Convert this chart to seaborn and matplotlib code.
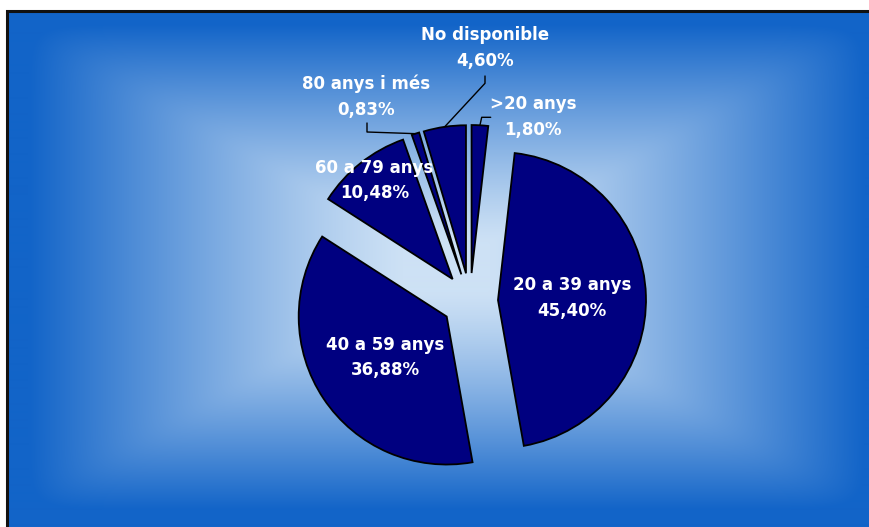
import numpy as np
import matplotlib
matplotlib.use("Agg")
import matplotlib.pyplot as plt
import seaborn as sns

# dades (percentatge per grup d'edat)
grups = [">20 anys", "20 a 39 anys", "40 a 59 anys", "60 a 79 anys", "80 anys i més", "No disponible"]
percentatges = [1.80, 45.40, 36.88, 10.48, 0.83, 4.60]

sns.set_theme(style="white")
plt.rcParams['font.family'] = ['DejaVu Sans']

W, H = 870, 527
fig = plt.figure(figsize=(W / 100, H / 100), dpi=100)
ax = fig.add_axes([0, 0, 1, 1])

# centre i radi del pastis (pixels), tot en unitats de radi
cx, cy, r = 470, 301, 148

def px(x, y):
    return (x - cx) / r, (cy - y) / r

# fons amb degradat rectangular des del centre
fx0, fx1, fy0, fy1 = 7, 886, 12, 522
gx, gy = (fx0 + fx1) / 2, (fy0 + fy1) / 2
xx, yy = np.meshgrid(np.arange(fx0, W + 1), np.arange(fy0, H + 1))
ux = np.abs(xx - gx) / ((fx1 - fx0) / 2)
uy = np.abs(yy - gy) / ((fy1 - fy0) / 2)
t = (ux ** 20 + uy ** 20) ** (1 / 20)
s = np.clip((t - 0.1) / 0.85, 0, 1) ** 1.2
c_centre = np.array([205, 225, 245]) / 255
c_vora = np.array([18, 100, 200]) / 255
img = c_centre[None, None, :] * (1 - s[..., None]) + c_vora[None, None, :] * s[..., None]
ex0, ey1 = px(fx0, fy0)
ex1, ey0 = px(W + 1, H + 1)
ax.imshow(img, extent=[ex0, ex1, ey0, ey1], origin="upper", zorder=0, interpolation="bilinear")

# vora superior i esquerra del requadre
vora = [px(6.5, H + 5), px(6.5, 11.5), px(W + 5, 11.5)]
ax.plot([q[0] for q in vora], [q[1] for q in vora], color="#111111", lw=2.2,
        solid_joinstyle="miter", zorder=1)

# pastis
wedges, _ = ax.pie(percentatges, startangle=90, counterclock=False,
                   explode=[28 / r] * len(percentatges), colors=["#000080"] * len(percentatges),
                   radius=1, center=(0, 0),
                   wedgeprops=dict(edgecolor="black", linewidth=1.3, zorder=2))

# etiquetes
dist_interior = {"20 a 39 anys": 0.5, "40 a 59 anys": 0.5, "60 a 79 anys": 0.85}
pos_exterior = {
    "80 anys i més": (366, 97),
    ">20 anys": (533, 117),
    "No disponible": (485, 48),
}
guia = {
    "80 anys i més": [(367, 132), (367, 123)],
    ">20 anys": [(481.7, 117.3), (490.7, 117.3)],
    "No disponible": [(485, 83.3), (485, 76)],
}

for w, g, p in zip(wedges, grups, percentatges):
    txt = g + "\n" + f"{p:.2f}%".replace(".", ",")
    ang = np.deg2rad((w.theta1 + w.theta2) / 2)
    d = np.array([np.cos(ang), np.sin(ang)])
    c = np.array(w.center)
    if g in dist_interior:
        tx, ty = c + dist_interior[g] * d
    else:
        tx, ty = px(*pos_exterior[g])
        punts = [tuple(c + 1.0 * d)] + [px(*q) for q in guia[g]]
        ax.plot([q[0] for q in punts], [q[1] for q in punts], color="black", lw=1, zorder=3)
    ax.text(tx, ty, txt, ha="center", va="center", color="white", fontsize=12,
            fontweight="bold", linespacing=1.55, zorder=4)

ax.set_xlim(-cx / r, (W - cx) / r)
ax.set_ylim(-(H - cy) / r, cy / r)
ax.set_aspect("auto")
ax.axis("off")

fig.savefig("out.png", dpi=100, facecolor="white")
